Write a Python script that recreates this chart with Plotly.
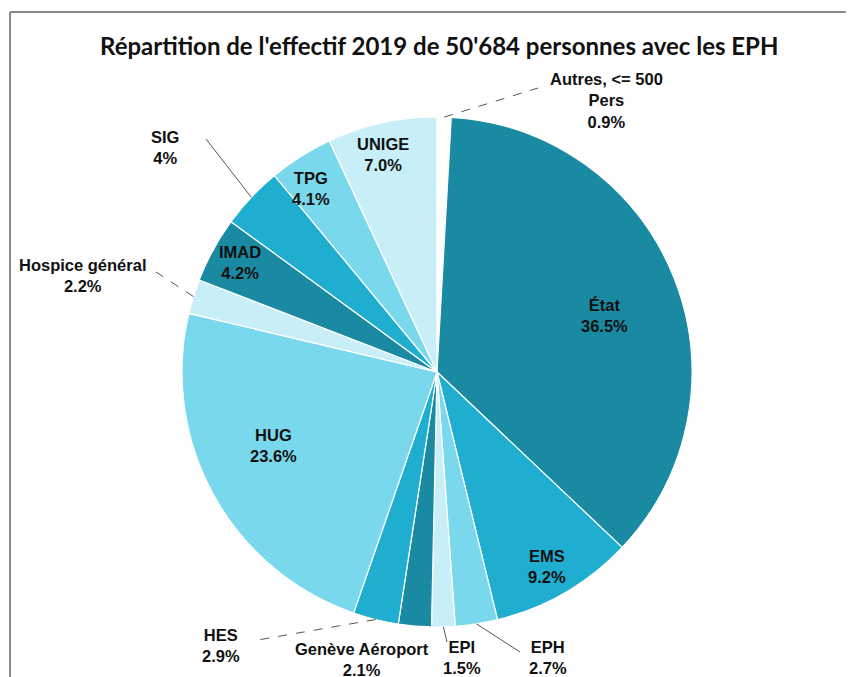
import math
import plotly.graph_objects as go

# ---- data ----
labels = ["Autres, <= 500<br>Pers", "État", "EMS", "EPH", "EPI", "Genève Aéroport", "HES",
          "HUG", "Hospice général", "IMAD", "SIG", "TPG", "UNIGE"]
values = [0.9, 36.5, 9.2, 2.7, 1.5, 2.1, 2.9, 23.6, 2.2, 4.2, 4.0, 4.1, 7.0]
pct_text = ["0.9%", "36.5%", "9.2%", "2.7%", "1.5%", "2.1%", "2.9%",
            "23.6%", "2.2%", "4.2%", "4%", "4.1%", "7.0%"]
title_text = "Répartition de l'effectif 2019 de 50'684 personnes avec les EPH"

# ---- styling ----
OFF = 8  # page body margin
W, H = 854 - OFF, 677 - OFF
colors = ["#ffffff", "#1a8aa3", "#1fadd0", "#7ad8ec", "#c8eff7", "#1a8aa3", "#1fadd0",
          "#7ad8ec", "#c8eff7", "#1a8aa3", "#1fadd0", "#7ad8ec", "#c8eff7"]
CX, CY, R = 437, 372, 255  # pixel geometry of the pie (screen coords)

# label placement (pixel centre of text), leader line end (pixel) or None, line dash
label_layout = {
    0: ((606, 101), (538, 88), "dash"),
    1: ((604, 315), None, None),
    2: ((547, 566), None, None),
    3: ((548, 657), (520, 652), "solid"),
    4: ((462, 657), (447, 642), "solid"),
    5: ((362, 659), None, None),
    6: ((221, 645), (252, 641), "dash"),
    7: ((273, 445), None, None),
    8: ((82, 275), (156, 272), "dash"),
    9: ((240, 262), None, None),
    10: ((165, 148), (206, 139), "solid"),
    11: ((311, 188), None, None),
    12: ((383, 155), None, None),
}

def px(x):
    return (x - OFF) / W

def py(y):
    return 1 - (y - OFF) / H

fig = go.Figure(go.Pie(
    labels=labels, values=values, sort=False, direction="clockwise", rotation=0,
    marker=dict(colors=colors, line=dict(color="#ffffff", width=1.2)),
    textinfo="none", hoverinfo="label+percent", showlegend=False,
    domain=dict(x=[px(CX - R), px(CX + R)], y=[py(CY + R), py(CY - R)]),
))

total = sum(values)
cum = 0.0
annotations = []
shapes = []
for i, (lab, v) in enumerate(zip(labels, values)):
    a0 = cum / total * 2 * math.pi
    cum += v
    a1 = cum / total * 2 * math.pi
    mid = (a0 + a1) / 2
    (tx, ty), lend, dash = label_layout[i]
    annotations.append(dict(
        x=px(tx), y=py(ty), xref="paper", yref="paper", showarrow=False,
        text=f"<b>{lab}<br>{pct_text[i]}</b>", align="center",
        font=dict(family="Liberation Sans, Arial", size=16.5, color="#111111"),
        xanchor="center", yanchor="middle",
    ))
    if lend is not None:
        ex = CX + R * math.sin(mid)
        ey = CY - R * math.cos(mid)
        shapes.append(dict(type="line", xref="paper", yref="paper",
                           x0=px(ex), y0=py(ey), x1=px(lend[0]), y1=py(lend[1]),
                           line=dict(color="#555555", width=1, dash=dash)))

# frame lines
shapes.append(dict(type="line", xref="paper", yref="paper", x0=px(10), y0=py(12), x1=1.0, y1=py(12),
                   line=dict(color="#8a8a8a", width=2)))
shapes.append(dict(type="line", xref="paper", yref="paper", x0=px(10), y0=py(12), x1=px(10), y1=0.0,
                   line=dict(color="#8a8a8a", width=2)))

annotations.append(dict(
    x=px(439), y=py(45), xref="paper", yref="paper", showarrow=False,
    text=f"<b>{title_text}</b>", xanchor="center", yanchor="middle",
    font=dict(family="Lato, Liberation Sans", size=24, color="#111111"),
))

fig.update_layout(
    width=W, height=H, margin=dict(l=0, r=0, t=0, b=0),
    paper_bgcolor="white", plot_bgcolor="white",
    annotations=annotations, shapes=shapes,
)

fig.write_html("out.html")
